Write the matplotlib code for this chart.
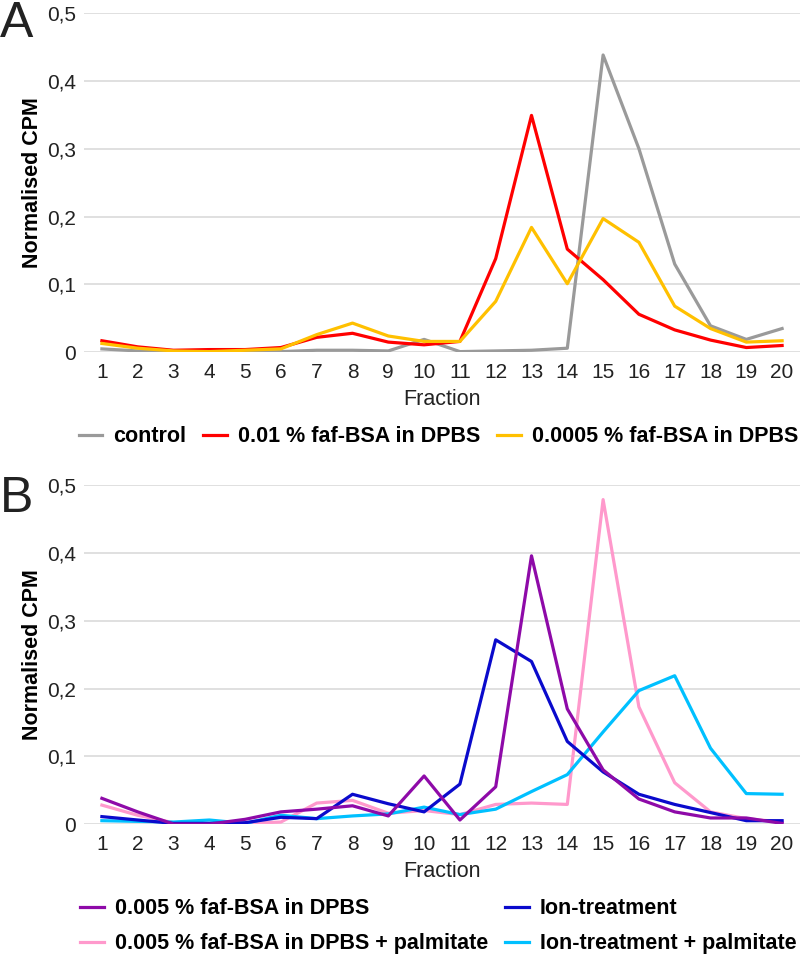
import numpy as np
import matplotlib
matplotlib.use("Agg")
import matplotlib.pyplot as plt

plt.rcParams['font.family'] = ['Liberation Sans', 'DejaVu Sans']

fractions = list(range(1, 21))

# Panel A
control = [0.005, 0.002, 0.001, 0.000, 0.000, 0.001, 0.003, 0.003, 0.002, 0.019,
           0.001, 0.002, 0.003, 0.006, 0.438, 0.300, 0.130, 0.039, 0.019, 0.035]
bsa_001 = [0.017, 0.008, 0.003, 0.004, 0.004, 0.007, 0.022, 0.028, 0.015, 0.011,
           0.016, 0.138, 0.349, 0.152, 0.107, 0.056, 0.033, 0.018, 0.007, 0.010]
bsa_00005 = [0.013, 0.006, 0.002, 0.001, 0.003, 0.005, 0.026, 0.043, 0.024, 0.016,
             0.016, 0.075, 0.184, 0.101, 0.197, 0.162, 0.068, 0.035, 0.015, 0.017]

# Panel B
bsa_0005 = [0.038, 0.018, 0.000, 0.000, 0.007, 0.018, 0.022, 0.027, 0.012, 0.071,
            0.006, 0.055, 0.396, 0.170, 0.080, 0.037, 0.018, 0.009, 0.009, 0.001]
bsa_0005_palm = [0.028, 0.013, 0.002, 0.001, 0.001, 0.003, 0.031, 0.035, 0.016, 0.020,
                 0.014, 0.029, 0.031, 0.029, 0.479, 0.173, 0.061, 0.018, 0.008, 0.003]
ion = [0.011, 0.006, 0.001, 0.001, 0.002, 0.010, 0.008, 0.044, 0.030, 0.018,
       0.059, 0.272, 0.240, 0.122, 0.077, 0.044, 0.029, 0.017, 0.005, 0.005]
ion_palm = [0.005, 0.004, 0.003, 0.006, 0.001, 0.013, 0.008, 0.012, 0.015, 0.025,
            0.014, 0.022, 0.048, 0.073, 0.136, 0.197, 0.219, 0.112, 0.045, 0.044]

yticks = [0, 0.1, 0.2, 0.3, 0.4, 0.5]
ytick_labels = ['0', '0,1', '0,2', '0,3', '0,4', '0,5']

fig = plt.figure(figsize=(8, 9.56), dpi=100)
axA = fig.add_axes([0.105, 0.6315, 0.895, 0.355])
axB = fig.add_axes([0.105, 0.138, 0.895, 0.3543])


def style(ax):
    ax.set_xlim(0.5, 20.5)
    ax.set_ylim(0, 0.5)
    ax.set_yticks(yticks)
    ax.set_yticklabels(ytick_labels)
    ax.set_xticks(fractions)
    ax.tick_params(length=0, labelsize=15, colors='#222222', pad=6)
    ax.tick_params(axis='x', pad=8)
    ax.grid(axis='y', color='#dddddd', lw=1.3)
    ax.set_axisbelow(True)
    for s in ax.spines.values():
        s.set_visible(False)
    ax.set_xlabel('Fraction', fontsize=15.5, color='#222222', labelpad=5)
    ax.set_ylabel('Normalised CPM', fontsize=15.5, fontweight='bold', labelpad=3)


lw = 2.3
axA.plot(fractions, control, color='#9a9a9a', lw=lw, label='control')
axA.plot(fractions, bsa_001, color='#ff0000', lw=lw, label='0.01 % faf-BSA in DPBS')
axA.plot(fractions, bsa_00005, color='#ffc000', lw=lw, label='0.0005 % faf-BSA in DPBS')
style(axA)

l1, = axB.plot(fractions, bsa_0005_palm, color='#ff99cc', lw=lw,
               label='0.005 % faf-BSA in DPBS + palmitate')
l2, = axB.plot(fractions, ion_palm, color='#00c0ff', lw=lw, label='Ion-treatment + palmitate')
l3, = axB.plot(fractions, ion, color='#0a0acc', lw=lw, label='Ion-treatment')
l4, = axB.plot(fractions, bsa_0005, color='#8e0aa8', lw=lw, label='0.005 % faf-BSA in DPBS')
style(axB)

leg_kw = dict(frameon=False, handlelength=1.1, handletextpad=0.5, columnspacing=0.8,
              prop={'size': 15.5, 'weight': 'bold'}, borderpad=0, borderaxespad=0)
hA, labA = axA.get_legend_handles_labels()
fig.legend(hA, labA, loc='center', bbox_to_anchor=(0.548, 0.543), ncol=3, **leg_kw)
fig.legend([l4, l1, l3, l2], [l4.get_label(), l1.get_label(), l3.get_label(), l2.get_label()],
           loc='center', bbox_to_anchor=(0.548, 0.031), ncol=2, labelspacing=0.65, **leg_kw)

fig.text(0.0, 0.999, 'A', fontsize=36, va='top', ha='left', color='#222222')
fig.text(0.0, 0.502, 'B', fontsize=36, va='top', ha='left', color='#222222')

fig.savefig('out.png', dpi=100)
